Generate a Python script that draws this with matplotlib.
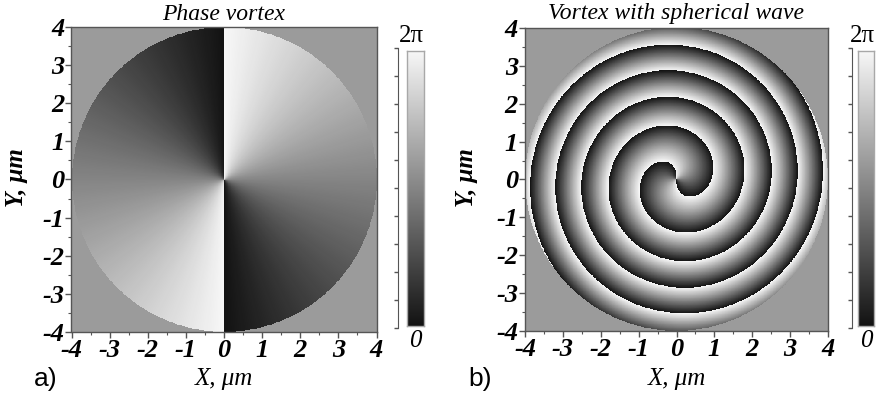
import numpy as np
import matplotlib
matplotlib.use("Agg")
import matplotlib.pyplot as plt
from matplotlib.colors import LinearSegmentedColormap
from matplotlib.ticker import MultipleLocator

# optical parameters (lengths in micrometres)
aperture_radius = 4.0
charge = 2
phase_offset = np.pi
wavelength = 0.633
focus = 1.2
grid_n = 700

panel_titles = ["Phase vortex", "Vortex with spherical wave"]
panel_letters = ["a)", "b)"]
axis_ticks = [-4, -3, -2, -1, 0, 1, 2, 3, 4]
cbar_labels = ["0", "2\u03c0"]

SERIF = "Liberation Serif"
tick_font = dict(family=SERIF, style="italic", weight="bold", size=19)

gray_map = LinearSegmentedColormap.from_list("phase_gray", ["#131313", "#f7f7f7"])
outside_gray = "#9b9b9b"
spine_col = "#555555"

xs = np.linspace(-aperture_radius, aperture_radius, grid_n)
X, Y = np.meshgrid(xs, xs)
R = np.hypot(X, Y)
TH = np.arctan2(Y, X)

vortex = np.mod(charge * TH + phase_offset, 2 * np.pi)
k = 2 * np.pi / wavelength
sphere = k * (np.sqrt(R ** 2 + focus ** 2) - focus)
vortex_sph = np.mod(charge * TH + phase_offset - sphere, 2 * np.pi)

fields = [np.ma.masked_where(R > aperture_radius, f) for f in (vortex, vortex_sph)]

W, H = 876, 401
fig = plt.figure(figsize=(W / 100, H / 100), dpi=100)


def px_axes(x0, y0, x1, y1):
    # rectangle given in pixels from the top-left corner
    return fig.add_axes([x0 / W, 1 - y1 / H, (x1 - x0) / W, (y1 - y0) / H])


layout = [
    dict(ax=(71, 27, 377, 332), cb=(407, 51, 424, 326), br=398, letter_x=46, ylab_x=17),
    dict(ax=(525, 27, 828, 332), cb=(858, 51, 874, 326), br=852, letter_x=480, ylab_x=467),
]

for i, (field, lay) in enumerate(zip(fields, layout)):
    ax = px_axes(*lay["ax"])
    ax.set_facecolor(outside_gray)
    ax.imshow(field, cmap=gray_map, vmin=0, vmax=2 * np.pi, origin="lower",
              extent=[-4, 4, -4, 4], interpolation="nearest")
    ax.set_xlim(-4, 4)
    ax.set_ylim(-4, 4)
    ax.set_xticks(axis_ticks)
    ax.set_yticks(axis_ticks)
    ax.set_xticklabels([str(t) for t in axis_ticks], fontdict=tick_font)
    ax.set_yticklabels([str(t) for t in axis_ticks], fontdict=tick_font)
    ax.xaxis.set_minor_locator(MultipleLocator(0.5))
    ax.yaxis.set_minor_locator(MultipleLocator(0.5))
    ax.tick_params(which="major", direction="out", length=4, width=1, color=spine_col, pad=1)
    ax.tick_params(which="minor", direction="out", length=2.5, width=0.8, color=spine_col)
    for sp in ax.spines.values():
        sp.set_color(spine_col)
        sp.set_linewidth(1)

    cx = (lay["ax"][0] + lay["ax"][2]) / 2
    fig.text(cx / W, 1 - 14 / H, panel_titles[i], ha="center", va="center",
             family=SERIF, style="italic", fontsize=17)
    fig.text(cx / W, 1 - 379 / H, "X, \u03bcm", ha="center", va="center",
             family=SERIF, style="italic", fontsize=18)
    fig.text(lay["ylab_x"] / W, 1 - 178 / H, "Y, \u03bcm", ha="center", va="center",
             rotation=90, family=SERIF, style="italic", weight="bold", fontsize=18)
    fig.text(lay["letter_x"] / W, 1 - 379 / H, panel_letters[i], ha="center", va="center",
             family="Liberation Sans", fontsize=19)

    # colour bar strip
    cax = px_axes(*lay["cb"])
    grad = np.linspace(0, 2 * np.pi, 256).reshape(-1, 1)
    cax.imshow(grad, cmap=gray_map, vmin=0, vmax=2 * np.pi, origin="lower",
               aspect="auto", extent=[0, 1, 0, 2 * np.pi])
    cax.set_xticks([])
    cax.set_yticks([])
    for sp in cax.spines.values():
        sp.set_color("#a8a8a8")
        sp.set_linewidth(1)

    # bracket scale beside the strip
    bx = lay["br"]
    bax = px_axes(bx - 1, 48, bx, 328)
    bax.set_ylim(0, 2 * np.pi)
    bax.patch.set_visible(False)
    for name, sp in bax.spines.items():
        sp.set_visible(name == "right")
    bax.spines["right"].set_color(spine_col)
    bax.set_xticks([])
    bax.yaxis.tick_right()
    bax.set_yticks(np.linspace(0, 2 * np.pi, 11))
    bax.set_yticklabels([])
    bax.set_yticks([np.pi], minor=True)
    bax.tick_params(axis="y", which="major", direction="in", length=3, width=1, color=spine_col)
    bax.tick_params(axis="y", which="minor", direction="in", length=6, width=1.2, color=spine_col)

    ccx = (lay["cb"][0] + lay["cb"][2]) / 2
    fig.text((ccx - 4) / W, 1 - 36 / H, cbar_labels[1], ha="center", va="center",
             family=SERIF, fontsize=18)
    fig.text(ccx / W, 1 - 341 / H, cbar_labels[0], ha="center", va="center",
             family=SERIF, style="italic", fontsize=18)

fig.savefig("out.png", dpi=100, facecolor="white")
